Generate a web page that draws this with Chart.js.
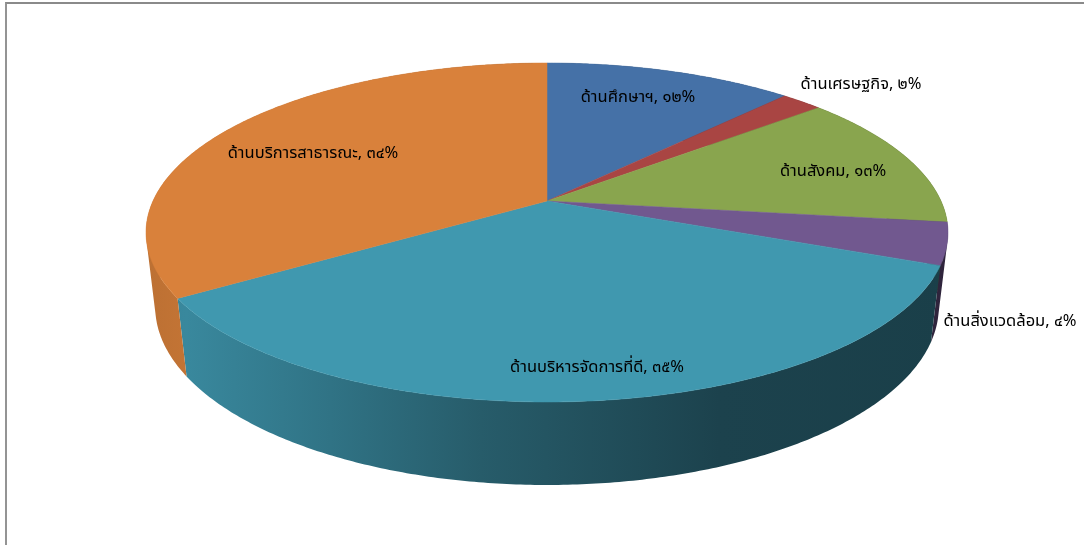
<!DOCTYPE html>
<html>
<head>
<meta charset="utf-8">
<style>
html,body{margin:0;padding:0;background:#fff;overflow:hidden}
#frame{position:absolute;left:5px;top:2px;width:1079px;height:543px;border-left:2px solid #949494;border-top:2px solid #8a8a8a;box-sizing:border-box}
#wrap{position:absolute;left:0;top:0;width:1084px;height:545px}
</style>
</head>
<body>
<div id="frame"></div>
<div id="wrap"><canvas id="c" width="1084" height="545" style="width:1084px;height:545px"></canvas></div>
<script src="https://cdn.jsdelivr.net/npm/chart.js@4"></script>
<script>
const categories = ["ด้านศึกษาฯ","ด้านเศรษฐกิจ","ด้านสังคม","ด้านสิ่งแวดล้อม","ด้านบริหารจัดการที่ดี","ด้านบริการสาธารณะ"];
const values = [12,2,13,4,35,34];
const valueLabels = ["๑๒%","๒%","๑๓%","๔%","๓๕%","๓๔%"];
const sliceColors = ["#4571a7","#a94543","#89a54e","#71588f","#4098af","#d9813b"];

// presentation only
const labelCenters = [[638,99],[861,86],[833,173],[1010,323],[597,369],[313,155]];
const view = {cx:547, apexY:201, a:394, b:126.3, k:-0.1858, vanishY:3500, d0:83, dSlope:0.0476, frontY:402};
const shadeStops = [[0,0.87],[0.05,0.9],[0.23,0.76],[0.417,0.61],[0.715,0.44],[1,0.42]];

function project(angle){
  const u = Math.cos(angle), v = Math.sin(angle), den = 1 + view.k*v;
  return {x: view.cx + view.a*u/den, y: (view.b*v + view.apexY)/den};
}
function drop(p){
  const d = view.d0 + (p.y - view.frontY)*view.dSlope;
  const f = d/(view.vanishY - p.y);
  return {x: p.x + (view.cx - p.x)*f, y: p.y + d};
}
function shade(hex,m){
  const n = parseInt(hex.slice(1),16);
  return `rgb(${(n>>16&255)*m|0},${(n>>8&255)*m|0},${(n&255)*m|0})`;
}
function samples(arc){
  const out=[], n=Math.max(4,Math.ceil((arc.endAngle-arc.startAngle)/0.01));
  for(let i=0;i<=n;i++) out.push(project(arc.startAngle+(arc.endAngle-arc.startAngle)*i/n));
  return out;
}
function area(q){
  let s=0;
  q.forEach((p,i)=>{const r=q[(i+1)%q.length]; s+=p.x*r.y-r.x*p.y;});
  return s;
}
const pie3d = {
  id:'pie3d',
  beforeDatasetsDraw(chart){
    const ctx = chart.ctx, arcs = chart.getDatasetMeta(0).data;
    const x0 = view.cx-401, x1 = view.cx+401;
    arcs.forEach((arc,i)=>{
      const pts = samples(arc);
      const g = ctx.createLinearGradient(x0,0,x1,0);
      shadeStops.forEach(([t,m])=>g.addColorStop(t,shade(sliceColors[i],m)));
      ctx.beginPath();
      for(let j=0;j<pts.length-1;j++){
        let q=[pts[j],pts[j+1],drop(pts[j+1]),drop(pts[j])];
        if(area(q)<0) q=q.reverse();
        q.forEach((p,n)=> n?ctx.lineTo(p.x,p.y):ctx.moveTo(p.x,p.y));
        ctx.closePath();
      }
      ctx.fillStyle=g; ctx.fill();
    });
    arcs.forEach((arc,i)=>{
      ctx.beginPath();
      ctx.moveTo(view.cx,view.apexY);
      samples(arc).forEach(p=>ctx.lineTo(p.x,p.y));
      ctx.closePath();
      ctx.fillStyle=arc.options.backgroundColor; ctx.fill();
      ctx.strokeStyle=arc.options.backgroundColor; ctx.lineWidth=0.5; ctx.stroke();
    });
    return false;
  },
  afterDraw(chart){
    const ctx = chart.ctx;
    ctx.save();
    ctx.font = "16.5px Tahoma, 'Noto Sans Thai', 'Liberation Sans', 'DejaVu Sans', sans-serif";
    ctx.fillStyle="#000"; ctx.textAlign="center"; ctx.textBaseline="middle";
    categories.forEach((c,i)=>ctx.fillText(c+", "+valueLabels[i],labelCenters[i][0],labelCenters[i][1]));
    ctx.restore();
  }
};
new Chart(document.getElementById('c'),{
  type:'pie',
  data:{labels:categories,datasets:[{data:values,backgroundColor:sliceColors,borderWidth:0}]},
  options:{
    responsive:false,animation:false,devicePixelRatio:1,
    plugins:{legend:{display:false},tooltip:{enabled:false},title:{display:false}}
  },
  plugins:[pie3d]
});
</script>
</body>
</html>
